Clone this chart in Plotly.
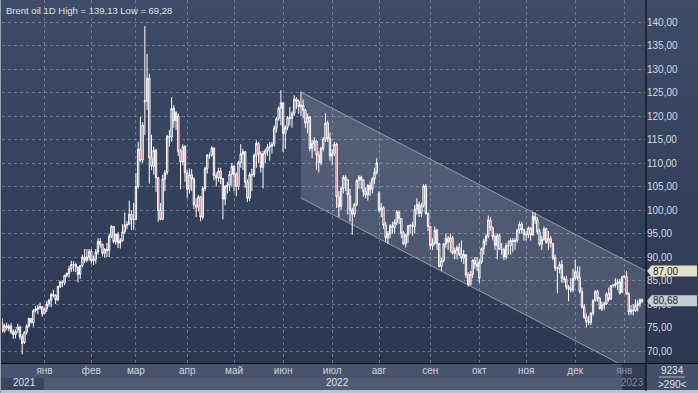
import numpy as np
import pandas as pd
import plotly.graph_objects as go

TITLE = "Brent oil 1D High = 139,13 Low = 69,28"
MONTH_LABELS = ["янв", "фев", "мар", "апр", "май", "июн", "июл", "авг", "сен", "окт", "ноя", "дек"]
YEAR_LABELS = ["2021", "2022", "2023"]
FOOTER_TOP = "9234"
FOOTER_BOTTOM = ">290<"

# (open, high, low, close) per trading day, month by month
dec21 = [
    (74.8, 75.6, 73.9, 75.3), (75.9, 77.0, 73.9, 74.2), (74.2, 75.8, 73.9, 75.4), (75.4, 76.0, 74.4, 74.9),
    (74.8, 75.7, 74.2, 75.3), (75.3, 75.9, 73.6, 74.0), (74.0, 74.6, 72.6, 73.5), (73.5, 74.6, 72.7, 74.2),
    (74.4, 75.8, 73.8, 75.1), (75.1, 75.4, 72.4, 73.0), (73.0, 73.6, 69.28, 71.6), (71.8, 74.2, 71.5, 74.0),
    (74.0, 75.7, 73.5, 75.3), (75.3, 77.1, 75.0, 76.9), (76.9, 77.0, 75.8, 76.2), (76.0, 78.9, 75.2, 78.6),
    (78.6, 79.6, 78.2, 78.9), (78.9, 79.8, 77.8, 79.2), (79.2, 80.3, 78.8, 79.4), (79.4, 79.5, 77.3, 77.9),
]
jan22 = [
    (78.0, 79.2, 77.8, 79.0), (79.0, 80.6, 78.3, 80.0), (80.0, 81.1, 79.4, 80.8), (80.8, 82.4, 79.3, 82.0),
    (82.0, 83.0, 81.4, 81.8), (81.8, 82.1, 80.0, 80.9), (80.9, 83.9, 80.6, 83.7), (83.7, 85.0, 83.4, 84.7),
    (84.7, 85.0, 83.6, 84.5), (84.5, 86.2, 84.0, 86.1), (86.1, 86.7, 85.7, 86.5), (86.5, 88.1, 85.6, 87.5),
    (87.5, 89.2, 86.8, 88.4), (88.4, 89.1, 86.9, 88.4), (88.4, 88.8, 86.8, 87.9), (87.9, 88.0, 84.6, 86.3),
    (86.3, 88.3, 85.3, 88.2), (88.2, 90.5, 87.8, 90.0), (90.0, 91.7, 88.7, 89.3), (89.3, 91.7, 88.9, 90.0),
    (90.0, 91.7, 89.2, 91.2),
]
feb22 = [
    (91.2, 91.7, 88.6, 89.2), (89.2, 90.3, 88.3, 89.5), (89.5, 91.7, 88.6, 91.1), (91.1, 94.0, 90.5, 93.3),
    (93.3, 94.0, 92.0, 92.7), (92.7, 92.8, 90.1, 90.8), (90.8, 91.9, 89.9, 91.6), (91.6, 93.0, 90.0, 91.4),
    (91.4, 95.0, 90.0, 94.4), (94.4, 96.8, 94.0, 96.5), (96.5, 96.5, 92.9, 93.3), (93.3, 95.0, 92.6, 94.8),
    (94.8, 95.3, 91.9, 93.0), (93.0, 94.0, 91.8, 93.5), (93.5, 97.0, 93.3, 95.4), (95.4, 99.5, 94.9, 96.8),
    (96.8, 97.6, 95.9, 96.9), (97.0, 102.0, 96.7, 99.1), (99.1, 100.0, 95.7, 97.9), (97.9, 101.5, 95.8, 98.0),
]
mar22 = [
    (98.0, 107.9, 97.8, 105.0), (105.0, 114.5, 104.5, 112.9), (113.0, 119.8, 110.2, 110.5), (110.6, 118.7, 110.0, 118.1),
    (123.0, 139.13, 116.0, 123.2), (123.2, 133.2, 121.3, 128.0), (128.0, 129.0, 105.6, 111.1), (111.1, 116.0, 108.5, 109.3),
    (109.3, 113.5, 107.5, 112.7), (112.7, 113.0, 103.9, 106.9), (106.9, 107.0, 97.5, 99.9), (99.9, 101.5, 97.8, 98.0),
    (98.0, 107.5, 97.9, 106.6), (106.6, 108.5, 104.0, 107.9), (108.0, 116.0, 107.5, 115.6), (115.6, 117.0, 113.5, 115.5),
    (115.5, 124.0, 114.5, 121.6), (121.6, 122.3, 117.5, 119.0), (119.0, 121.0, 117.0, 120.7), (120.0, 120.5, 111.5, 112.5),
    (112.5, 113.0, 104.4, 110.2), (110.2, 114.0, 109.5, 113.5), (113.5, 113.8, 106.0, 107.9),
]
apr22 = [
    (107.9, 108.5, 102.6, 104.4), (104.4, 108.8, 103.5, 107.5), (107.5, 108.7, 104.0, 106.6), (106.6, 107.0, 100.2, 101.1),
    (101.1, 102.5, 98.5, 100.6), (100.6, 103.2, 99.7, 102.8), (102.8, 102.9, 97.6, 98.5), (98.5, 105.0, 98.0, 104.6),
    (104.6, 109.2, 104.0, 108.8), (108.8, 111.9, 107.8, 111.7), (111.7, 112.2, 110.9, 111.7), (111.7, 113.6, 111.3, 113.2),
    (113.2, 113.3, 106.3, 107.3), (107.3, 108.0, 105.0, 106.8), (106.8, 109.0, 106.0, 108.3), (108.3, 109.0, 105.5, 106.7),
    (106.7, 106.8, 98.0, 102.3), (102.3, 105.3, 101.0, 105.0), (105.0, 106.0, 103.5, 105.3), (105.3, 108.3, 104.0, 107.6),
    (107.6, 110.0, 105.0, 109.3),
]
may22 = [
    (109.3, 109.5, 104.0, 107.6), (107.6, 108.0, 102.9, 105.0), (105.0, 110.5, 104.3, 110.1), (110.1, 114.0, 109.0, 111.9),
    (111.9, 113.0, 108.5, 112.4), (112.4, 112.5, 104.7, 105.9), (105.9, 106.5, 101.7, 102.5), (102.5, 108.0, 101.9, 107.5),
    (107.5, 108.8, 104.0, 107.5), (107.5, 112.0, 107.0, 111.6), (111.6, 114.8, 109.0, 114.2), (114.2, 114.5, 110.0, 111.9),
    (111.9, 112.5, 108.0, 109.1), (109.1, 112.6, 104.6, 112.0), (112.0, 113.0, 110.0, 112.6), (112.6, 114.0, 111.5, 113.4),
    (113.4, 114.5, 110.5, 113.6), (113.6, 114.5, 112.0, 114.0), (114.0, 118.0, 113.5, 117.4), (117.4, 119.8, 116.5, 119.4),
    (119.4, 122.0, 119.0, 121.7), (121.7, 125.5, 118.0, 122.8),
]
jun22 = [
    (122.8, 123.0, 112.3, 116.3), (116.3, 118.0, 113.0, 117.6), (117.6, 120.0, 117.0, 119.7), (119.7, 121.9, 118.0, 119.5),
    (119.5, 121.0, 117.5, 120.6), (120.6, 124.4, 120.0, 123.6), (123.6, 124.0, 121.5, 123.1), (123.1, 123.5, 120.5, 122.0),
    (122.0, 125.2, 120.0, 122.3), (122.3, 123.5, 119.5, 121.2), (121.2, 121.5, 117.5, 118.5), (118.5, 120.5, 116.3, 119.8),
    (119.8, 119.9, 112.5, 113.1), (113.1, 115.0, 111.0, 114.1), (114.1, 115.5, 112.5, 114.7), (114.7, 114.7, 108.5, 111.7),
    (111.7, 112.5, 108.0, 110.1), (110.1, 113.5, 109.5, 113.1), (113.1, 115.5, 112.5, 115.1), (115.1, 120.6, 114.5, 118.5),
    (118.5, 119.0, 114.5, 115.2), (115.2, 116.5, 110.5, 111.5),
]
jul22 = [
    (111.5, 113.0, 109.5, 112.0), (112.0, 114.5, 111.5, 114.0), (114.0, 114.3, 100.4, 102.8), (102.8, 104.0, 98.5, 100.7),
    (100.7, 105.0, 100.0, 104.6), (104.6, 107.4, 103.5, 107.0), (107.0, 107.4, 104.0, 106.4), (106.4, 106.5, 99.0, 103.2),
    (103.0, 104.5, 97.5, 100.0), (100.0, 100.5, 94.7, 99.1), (99.1, 101.5, 98.5, 101.2), (101.2, 106.5, 100.8, 106.3),
    (106.3, 107.4, 104.5, 107.0), (107.0, 107.3, 104.5, 106.4), (106.4, 106.5, 102.8, 103.9), (103.9, 104.8, 102.5, 103.2),
    (103.2, 105.5, 102.0, 105.2), (105.2, 106.0, 103.0, 104.4), (104.4, 107.0, 103.5, 106.6), (106.6, 109.0, 105.5, 108.0),
    (108.0, 111.0, 107.5, 110.0),
]
aug22 = [
    (103.6, 104.0, 99.5, 100.0), (100.0, 101.5, 98.5, 100.5), (100.5, 100.8, 96.0, 96.8), (96.8, 97.5, 93.2, 94.1),
    (94.1, 95.5, 92.8, 94.9), (94.9, 97.0, 94.0, 96.6), (96.6, 97.5, 95.0, 96.3), (96.3, 98.0, 95.0, 97.4),
    (97.4, 100.0, 96.8, 99.6), (99.6, 99.7, 97.0, 98.2), (98.2, 98.2, 94.0, 95.1), (95.1, 95.5, 92.5, 92.8),
    (92.8, 94.8, 92.0, 94.7), (94.7, 96.8, 93.0, 96.6), (96.6, 97.0, 95.0, 96.7), (96.7, 97.5, 94.5, 96.5),
    (96.5, 101.0, 95.0, 100.2), (100.2, 102.5, 99.0, 101.2), (101.2, 101.8, 98.5, 99.3), (99.3, 101.5, 98.5, 101.0),
    (101.0, 105.5, 100.5, 105.1), (105.1, 105.5, 99.0, 99.3), (99.3, 99.5, 95.5, 96.5),
]
sep22 = [
    (96.5, 96.5, 91.5, 92.4), (92.4, 94.0, 91.5, 93.0), (93.0, 96.5, 92.5, 95.7), (95.7, 96.0, 91.5, 92.8),
    (92.8, 93.0, 87.8, 88.0), (88.0, 89.8, 87.0, 89.2), (89.2, 93.0, 88.8, 92.8), (92.8, 95.0, 92.0, 94.0),
    (94.0, 94.5, 91.5, 93.2), (93.2, 95.0, 91.0, 94.1), (94.1, 94.5, 90.5, 90.8), (90.8, 92.0, 89.5, 91.4),
    (91.4, 92.5, 89.5, 92.0), (92.0, 93.0, 90.2, 90.6), (90.6, 93.5, 89.0, 89.8), (89.8, 91.5, 88.5, 90.5),
    (90.5, 90.5, 85.5, 86.2), (86.2, 86.8, 83.7, 84.1), (84.1, 87.0, 84.0, 86.3), (86.3, 89.5, 85.5, 89.3),
    (89.3, 90.0, 87.5, 88.5), (88.5, 90.0, 87.0, 88.0),
]
oct22 = [
    (85.5, 89.5, 84.5, 88.9), (88.9, 92.0, 88.5, 91.8), (91.8, 93.9, 90.5, 93.4), (93.4, 94.9, 92.5, 94.4),
    (94.4, 98.8, 94.0, 97.9), (97.9, 98.5, 95.5, 96.2), (96.2, 96.5, 93.5, 94.3), (94.3, 94.8, 91.5, 92.5),
    (92.5, 95.0, 89.5, 94.6), (94.6, 95.0, 91.5, 91.6), (91.6, 93.0, 90.5, 91.6), (91.6, 92.0, 89.3, 90.0),
    (90.0, 93.0, 89.5, 92.4), (92.4, 93.5, 90.5, 92.4), (92.4, 94.0, 90.5, 93.5), (93.5, 94.0, 91.0, 93.3),
    (93.3, 94.0, 91.5, 93.5), (93.5, 96.0, 93.0, 95.7), (95.7, 97.5, 95.0, 97.0), (97.0, 97.5, 95.0, 95.8),
    (95.8, 96.0, 93.5, 94.8),
]
nov22 = [
    (94.8, 95.5, 93.5, 94.7), (94.7, 96.5, 94.0, 96.2), (96.2, 96.3, 93.5, 94.7), (94.7, 99.6, 94.5, 98.6),
    (98.6, 99.5, 97.0, 97.9), (97.9, 98.5, 94.8, 95.4), (95.4, 96.0, 92.3, 92.7), (92.7, 94.5, 91.5, 93.7),
    (93.7, 96.5, 93.5, 96.0), (96.0, 96.2, 92.8, 93.1), (93.1, 95.5, 91.5, 93.9), (93.9, 94.5, 92.0, 92.9),
    (92.9, 93.0, 89.3, 89.8), (89.8, 90.5, 87.0, 87.6), (87.6, 88.0, 82.3, 87.5), (87.5, 89.0, 86.5, 88.4),
    (88.4, 89.4, 84.5, 85.4), (85.4, 86.0, 84.5, 85.3), (85.3, 86.0, 83.0, 83.6), (83.6, 84.0, 80.6, 83.2),
    (83.2, 85.5, 82.5, 83.0), (83.0, 87.5, 82.5, 85.4),
]
dec22 = [
    (85.4, 89.4, 85.0, 86.9), (86.9, 88.0, 85.0, 85.6), (85.6, 88.0, 82.3, 82.7), (82.7, 83.5, 79.0, 79.4),
    (79.4, 80.0, 76.8, 77.2), (77.2, 78.0, 75.1, 76.2), (76.2, 77.5, 75.5, 76.1), (76.1, 78.3, 75.5, 78.0),
    (78.0, 81.0, 77.5, 80.7), (80.7, 83.0, 80.5, 82.7), (82.7, 83.0, 80.5, 81.2), (81.2, 81.5, 78.8, 79.0),
    (79.0, 80.5, 78.5, 79.8), (79.8, 80.5, 78.8, 80.0), (80.0, 82.5, 79.8, 82.2), (82.2, 83.5, 80.5, 81.0),
    (81.0, 84.0, 81.0, 83.9), (83.9, 84.2, 83.5, 84.0), (84.0, 85.5, 83.5, 84.3), (84.3, 85.3, 83.0, 84.7),
    (84.7, 85.3, 82.0, 82.3), (82.5, 86.0, 82.3, 85.8),
]
jan23 = [
    (85.8, 86.2, 85.5, 85.9), (85.9, 87.0, 82.0, 82.1), (82.1, 82.5, 77.6, 78.3), (78.3, 79.8, 77.7, 78.7),
    (78.7, 80.0, 77.6, 78.6), (78.6, 81.0, 78.3, 79.7), (79.7, 80.8, 78.4, 80.1), (80.1, 81.2, 79.3, 80.9),
    (80.9, 81.2, 80.2, 80.68),
]

MONTHS = [
    ("2021-12-06", "2021-12-31", dec21), ("2022-01-03", "2022-01-31", jan22),
    ("2022-02-01", "2022-02-28", feb22), ("2022-03-01", "2022-03-31", mar22),
    ("2022-04-01", "2022-04-29", apr22), ("2022-05-02", "2022-05-31", may22),
    ("2022-06-01", "2022-06-30", jun22), ("2022-07-01", "2022-07-29", jul22),
    ("2022-08-01", "2022-08-31", aug22), ("2022-09-01", "2022-09-30", sep22),
    ("2022-10-03", "2022-10-31", oct22), ("2022-11-01", "2022-11-30", nov22),
    ("2022-12-01", "2022-12-30", dec22), ("2023-01-02", "2023-01-12", jan23),
]

# trend channel drawn on the chart (start date, top / bottom prices at start and at right edge)
CHANNEL_START = "2022-06-13"
CHANNEL_TOP = [125.1, 87.0]
CHANNEL_BOTTOM = [102.55, 64.35]

dates, opens, highs, lows, closes = [], [], [], [], []
for start, end, rows in MONTHS:
    d = pd.bdate_range(start, end)
    if len(d) != len(rows):
        raise ValueError(f"{start}: {len(d)} days vs {len(rows)} rows")
    for day, (o, h, l, c) in zip(d, rows):
        dates.append(day)
        opens.append(o); highs.append(h); lows.append(l); closes.append(c)

dts = pd.DatetimeIndex(dates)
n = len(dts)
x = np.arange(n) - len(dec21)          # trading-day index, 0 = first day of 2022

X_LEFT, X_RIGHT = -19.06, 269.73
Y_BOTTOM, Y_TOP = 67.447, 144.68

tick_idx = [k for k in range(1, n) if dts[k].month != dts[k - 1].month]
tickvals = [int(x[k]) for k in tick_idx]
ticktext = [MONTH_LABELS[dts[k].month - 1] for k in tick_idx]
ticktext[-1] = '<span style="color:#8a94a8">' + ticktext[-1] + "</span>"

W, H = 698, 393
ML, MR, MT, MB = 2, 52, 0, 30
PW, PH = W - ML - MR, H - MT - MB


def pxx(px):
    return (px - ML) / PW


def pxy(py):
    return (H - MB - py) / PH


fig = go.Figure()
fig.add_trace(go.Candlestick(
    x=x, open=opens, high=highs, low=lows, close=closes,
    increasing=dict(line=dict(color="#ffffff", width=1), fillcolor="rgba(0,0,0,0)"),
    decreasing=dict(line=dict(color="#ffffff", width=1), fillcolor="#c3203f"),
    whiskerwidth=0, hoverinfo="skip", showlegend=False,
))

shapes = []
# background gradient
N = 40
top_c = np.array([63, 76, 104])
bot_c = np.array([43, 55, 81])
for k in range(N):
    t = k / (N - 1)
    col = (top_c * (1 - t) + bot_c * t).astype(int)
    y0 = k * H / N
    y1 = (k + 1) * H / N + 0.5
    shapes.append(dict(type="rect", xref="paper", yref="paper", layer="below",
                       x0=pxx(-1), x1=pxx(W + 1), y0=pxy(y1), y1=pxy(y0),
                       line=dict(width=0), fillcolor=f"rgb({col[0]},{col[1]},{col[2]})"))
# bottom time bands
shapes += [
    dict(type="rect", xref="paper", yref="paper", layer="below", x0=pxx(-1), x1=pxx(646), y0=pxy(378), y1=pxy(363),
         line=dict(width=0), fillcolor="#48546e"),
    dict(type="rect", xref="paper", yref="paper", layer="below", x0=pxx(-1), x1=pxx(646), y0=pxy(391), y1=pxy(378),
         line=dict(width=0), fillcolor="#3a465f"),
    dict(type="rect", xref="paper", yref="paper", layer="below", x0=pxx(44), x1=pxx(622), y0=pxy(390), y1=pxy(378),
         line=dict(width=0), fillcolor="#4f5a74"),
    dict(type="rect", xref="paper", yref="paper", layer="below", x0=pxx(622), x1=pxx(646), y0=pxy(391), y1=pxy(364),
         line=dict(width=0), fillcolor="rgba(25,35,58,0.45)"),
    dict(type="rect", xref="paper", yref="paper", layer="below", x0=pxx(646), x1=pxx(W + 1), y0=pxy(391), y1=pxy(363),
         line=dict(width=0), fillcolor="#44506a"),
    dict(type="rect", xref="paper", yref="paper", layer="below", x0=pxx(-1), x1=pxx(W + 1), y0=pxy(H + 1), y1=pxy(390),
         line=dict(width=0), fillcolor="#bcc3ce"),
]

# channel
cx0 = float(x[list(dts).index(pd.Timestamp(CHANNEL_START))])
cx1 = X_RIGHT
shapes.append(dict(type="path", xref="x", yref="y", layer="between",
                   path=f"M {cx0},{CHANNEL_TOP[0]} L {cx1},{CHANNEL_TOP[1]} L {cx1},{CHANNEL_BOTTOM[1]} L {cx0},{CHANNEL_BOTTOM[0]} Z",
                   line=dict(width=0), fillcolor="rgba(225,230,240,0.16)"))
shapes.append(dict(type="line", xref="x", yref="y", layer="between", x0=cx0, y0=CHANNEL_TOP[0], x1=cx1, y1=CHANNEL_TOP[1],
                   line=dict(color="rgba(170,176,190,0.8)", width=1)))
shapes.append(dict(type="line", xref="x", yref="y", layer="between", x0=cx0, y0=CHANNEL_BOTTOM[0], x1=cx1, y1=CHANNEL_BOTTOM[1],
                   line=dict(color="rgba(170,176,190,0.8)", width=1)))

# frame lines
shapes += [
    dict(type="line", xref="paper", yref="paper", layer="above", x0=pxx(646), x1=pxx(646), y0=pxy(391), y1=pxy(0),
         line=dict(color="#0b0f18", width=1.2)),
    dict(type="line", xref="paper", yref="paper", layer="above", x0=pxx(0), x1=pxx(W), y0=pxy(363.5), y1=pxy(363.5),
         line=dict(color="#0b0f18", width=1.2)),
    dict(type="line", xref="paper", yref="paper", layer="above", x0=pxx(0.5), x1=pxx(0.5), y0=pxy(H), y1=pxy(0),
         line=dict(color="#9aa2b2", width=1)),
    dict(type="line", xref="paper", yref="paper", layer="above", x0=pxx(659), x1=pxx(685), y0=pxy(377), y1=pxy(377),
         line=dict(color="#aab2c0", width=1)),
]

annotations = [
    dict(text=TITLE, xref="paper", yref="paper", x=pxx(4), y=pxy(11), xanchor="left", yanchor="middle",
         showarrow=False, font=dict(family="Liberation Sans", size=9.5, color="#dde2ea")),
    dict(text=YEAR_LABELS[0], xref="paper", yref="paper", x=pxx(24.5), y=pxy(382.5), xanchor="center", yanchor="middle",
         showarrow=False, font=dict(family="Liberation Sans", size=10, color="#dfe4ec")),
    dict(text=YEAR_LABELS[1], xref="paper", yref="paper", x=pxx(337), y=pxy(382.5), xanchor="center", yanchor="middle",
         showarrow=False, font=dict(family="Liberation Sans", size=10, color="#dfe4ec")),
    dict(text=YEAR_LABELS[2], xref="paper", yref="paper", x=pxx(646), y=pxy(382.5), xanchor="right", yanchor="middle",
         showarrow=False, font=dict(family="Liberation Sans", size=10, color="#7f899e")),
    dict(text=FOOTER_TOP, xref="paper", yref="paper", x=pxx(672), y=pxy(370), xanchor="center", yanchor="middle",
         showarrow=False, font=dict(family="Liberation Sans", size=10, color="#dfe4ec")),
    dict(text=FOOTER_BOTTOM.replace("<", "&lt;").replace(">", "&gt;"), xref="paper", yref="paper", x=pxx(672), y=pxy(384),
         xanchor="center", yanchor="middle", showarrow=False, font=dict(family="Liberation Sans", size=10, color="#dfe4ec")),
]

# price tags on the axis
PX_PER_UNIT = PH / (Y_TOP - Y_BOTTOM)
tags = [(CHANNEL_TOP[1], "#e4e2c6"), (closes[-1], "#c8ccd5")]
for val, col in tags:
    half = 5.5 / PX_PER_UNIT
    shapes.append(dict(type="path", xref="paper", yref="y", layer="above",
                       path=f"M {pxx(647)},{val} L {pxx(651.5)},{val + half} L {pxx(697)},{val + half} "
                            f"L {pxx(697)},{val - half} L {pxx(651.5)},{val - half} Z",
                       line=dict(width=0), fillcolor=col))
    annotations.append(dict(text=f"{val:.2f}".replace(".", ","), xref="paper", yref="y", x=pxx(651), y=val,
                            xanchor="left", yanchor="middle", showarrow=False,
                            font=dict(family="Liberation Sans", size=10, color="#1b2640")))

grid_col = "rgba(150,162,186,0.55)"
fig.update_layout(
    width=W, height=H, margin=dict(l=ML, r=MR, t=MT, b=MB),
    paper_bgcolor="#33405a", plot_bgcolor="rgba(0,0,0,0)",
    separators=", ", showlegend=False, boxgap=0.12,
    shapes=shapes, annotations=annotations,
    xaxis=dict(range=[X_LEFT, X_RIGHT], tickmode="array", tickvals=tickvals, ticktext=ticktext,
               showgrid=True, gridcolor=grid_col, griddash="3px,3px", gridwidth=1,
               zeroline=False, showline=False, ticks="", rangeslider=dict(visible=False), fixedrange=True,
               tickfont=dict(family="Liberation Sans", size=10, color="#cdd3de")),
    yaxis=dict(side="right", range=[Y_BOTTOM, Y_TOP], tick0=70, dtick=5, tickformat=".2f",
               showgrid=True, gridcolor=grid_col, griddash="3px,3px", gridwidth=1,
               zeroline=False, showline=False, ticks="", fixedrange=True,
               tickfont=dict(family="Liberation Sans", size=10, color="#d3d9e2")),
)

fig.write_html("out.html", config={"displayModeBar": False},
               post_script="document.body.style.margin='0';document.body.style.overflow='hidden';")
